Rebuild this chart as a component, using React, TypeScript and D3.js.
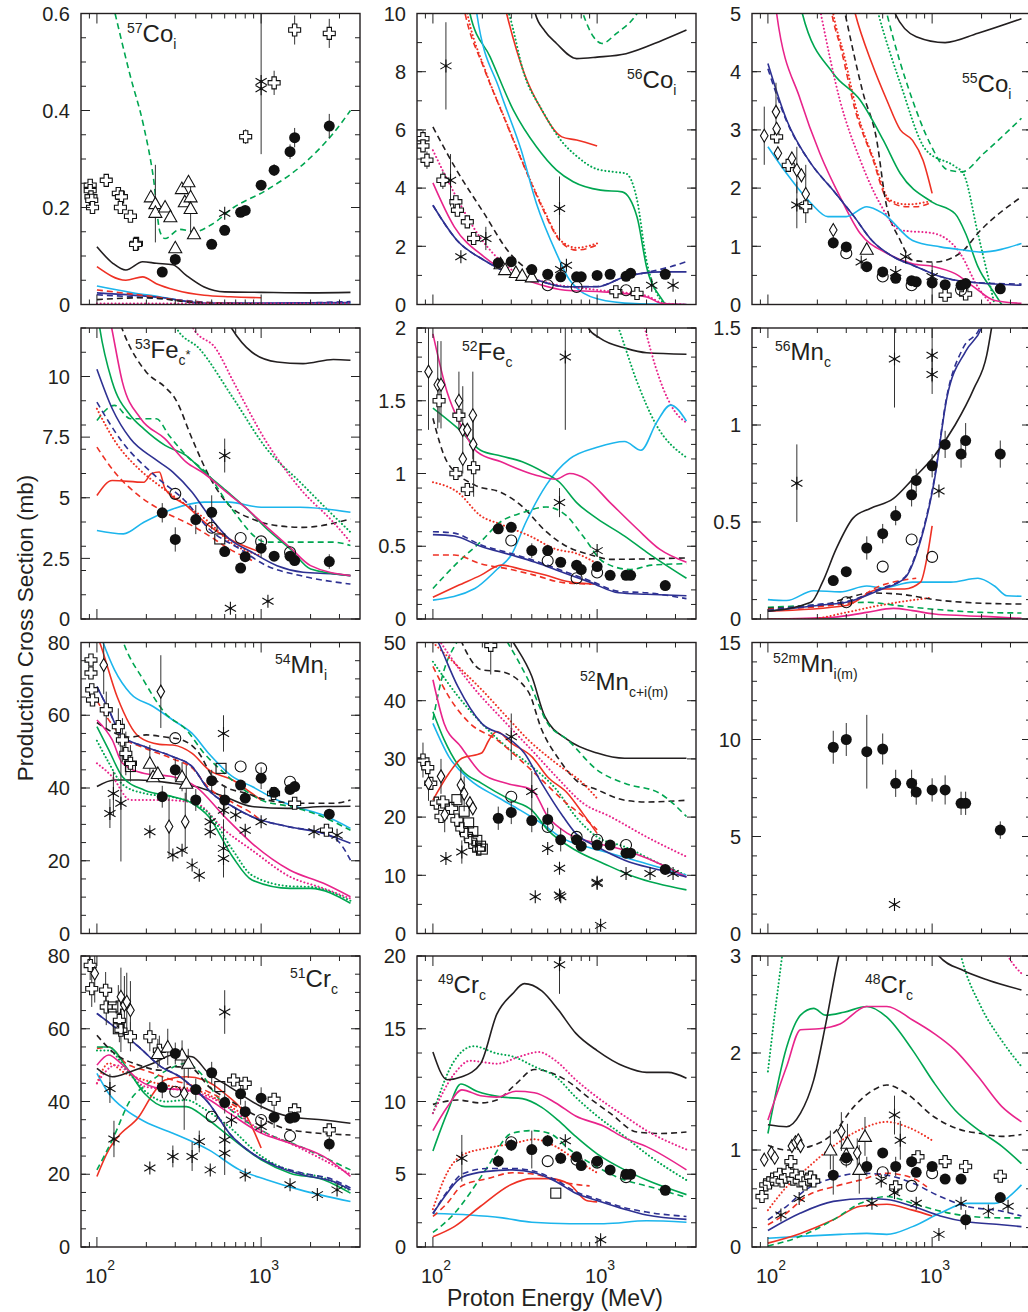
import React from 'react';
import * as d3 from 'd3';

type Pt = [number, number, number?];
type Ln = [string, string, [number, number][]];

// ---------- data: 57Co(i) ----------
const co57L: Ln[] = [
  ['K', '-', [[100, 0.119], [125, 0.085], [150, 0.071], [190, 0.088], [230, 0.085], [290, 0.082], [350, 0.06], [450, 0.036], [600, 0.026], [1000, 0.025], [2000, 0.024], [3500, 0.025]]],
  ['R', '-', [[100, 0.078], [150, 0.05], [190, 0.057], [230, 0.043], [300, 0.03], [450, 0.019], [650, 0.016], [1000, 0.014]]],
  ['C', '-', [[100, 0.038], [165, 0.024], [240, 0.016], [360, 0.0055], [450, 0.001], [1000, 0.001], [3500, 0.002]]],
  ['B', '-', [[100, 0.024], [250, 0.014], [450, 0.003], [1000, 0.003], [3500, 0.004]]],
  ['B', 'd', [[100, 0.02], [300, 0.01], [500, 0.004], [1000, 0.002], [3500, 0.006]]],
  ['R', 'd', [[100, 0.03], [200, 0.018], [400, 0.005], [1000, 0.001]]],
  ['K', 'd', [[100, 0.01], [200, 0.014], [400, 0.004], [1000, 0.001]]],
  ['M', 'o', [[100, 0.002], [3500, 0.002]]],
  ['G', 'd', [[129, 0.6], [160, 0.47], [192, 0.37], [221, 0.26], [242, 0.15], [260, 0.136], [320, 0.155], [390, 0.15], [500, 0.165], [680, 0.2], [1080, 0.236], [1730, 0.284], [2750, 0.353], [3500, 0.4]]],
];
const co57F: Pt[] = [[250, 0.067, 0.005], [300, 0.093, 0.006], [500, 0.124], [600, 0.153, 0.006], [750, 0.19, 0.008], [800, 0.194, 0.008], [1000, 0.246, 0.01], [1200, 0.277, 0.012], [1500, 0.315, 0.015], [1600, 0.344, 0.02], [2600, 0.368, 0.025]];
const co57X: Pt[] = [[91, 0.246, 0.01], [91, 0.235], [92, 0.222], [93, 0.215], [94, 0.2, 0.012], [114, 0.256, 0.012], [135, 0.229], [141, 0.222], [139, 0.2], [160, 0.182], [174, 0.126], [172, 0.124], [805, 0.346, 0.015], [1200, 0.457, 0.025], [1600, 0.566, 0.03], [2600, 0.559, 0.03]];
const co57T: Pt[] = [[213, 0.222], [227, 0.208, 0.08], [227, 0.19], [260, 0.201], [280, 0.181], [300, 0.117], [329, 0.239], [343, 0.212], [361, 0.253], [372, 0.222], [372, 0.198, 0.05], [390, 0.146]];
const co57S: Pt[] = [[600, 0.188], [1000, 0.46, 0.15], [1000, 0.445]];

// ---------- 56Co(i) ----------
const co56L: Ln[] = [
  ['K', '-', [[380, 11.5], [420, 10], [480, 9.4], [566, 8.97], [750, 8.45], [1000, 8.5], [1500, 8.62], [2500, 9.08], [3500, 9.43]]],
  ['G', 'd', [[760, 10.6], [820, 10], [950, 9.2], [1070, 8.97], [1300, 9.3], [1750, 10], [2000, 10.6]]],
  ['R', '-', [[260, 10.8], [281, 10], [360, 7.94], [460, 6.68], [610, 5.76], [750, 5.65], [1000, 5.45]]],
  ['G', 'o', [[240, 11], [290, 10], [360, 7.9], [460, 6.7], [610, 5.6], [750, 5.1], [1000, 4.65], [1300, 4.55], [1500, 4.5], [1750, 3.6], [2000, 1.5], [2300, 0.4], [2600, 0]]],
  ['G', '-', [[155, 11], [168, 10], [223, 8.51], [309, 6.68], [427, 5.42], [566, 4.62], [715, 4.22], [1050, 3.93], [1420, 3.87], [1750, 3.01], [2000, 1.29], [2500, 0.15], [2600, 0]]],
  ['R', 'd', [[145, 11], [157, 10], [203, 8.17], [270, 6.45], [360, 4.73], [460, 3.36], [590, 2.21], [750, 1.87], [1000, 2.04]]],
  ['R', 'o', [[150, 11], [162, 10], [210, 8.0], [278, 6.3], [370, 4.6], [470, 3.3], [600, 2.2], [750, 1.95], [1000, 2.1]]],
  ['C', '-', [[175, 11], [185, 10], [255, 7.37], [345, 5.3], [427, 3.47], [566, 1.75], [680, 0.84], [1000, 0.2], [1700, 0.03], [3500, 0]]],
  ['K', 'd', [[100, 6.1], [140, 4.6], [205, 3.13], [295, 1.75], [360, 1.29], [400, 1.1]]],
  ['M', 'o', [[100, 5.3], [130, 4.0], [200, 2.2], [300, 1.2], [500, 0.75], [1000, 0.5], [2000, 0.3], [2500, 0.05], [3500, 0]]],
  ['M', '-', [[100, 4.18], [135, 2.67], [205, 1.64], [295, 1.07], [427, 0.72], [640, 0.49], [1050, 0.44], [2000, 0.26], [2500, 0.03], [3500, 0]]],
  ['B', 'd', [[100, 3.41], [140, 2.21], [205, 1.52], [295, 1.07], [427, 0.84], [640, 0.61], [1000, 0.62], [1470, 0.95], [2000, 1.1], [2800, 1.3], [3500, 1.47]]],
  ['B', '-', [[100, 3.41], [140, 2.21], [205, 1.52], [295, 1.07], [427, 0.84], [640, 0.61], [1000, 0.61], [1470, 0.95], [2500, 1.12], [3500, 1.12]]],
];
const co56F: Pt[] = [[250, 1.43], [300, 1.47], [400, 1.2], [500, 1.04], [600, 0.95], [750, 0.95], [800, 0.95], [1000, 1.0], [1200, 1.04], [1500, 0.97], [1600, 1.07], [2600, 1.04]];
const co56O: Pt[] = [[500, 0.66], [750, 0.6], [1500, 0.49]];
const co56X: Pt[] = [[87, 5.7, 0.3], [87, 5.45], [92, 4.96, 0.3], [115, 4.27, 0.3], [138, 3.53], [141, 3.24], [162, 2.84], [177, 2.27], [1300, 0.44], [1750, 0.38]];
const co56T: Pt[] = [[258, 1.4], [275, 1.2], [320, 1.1], [350, 1.0], [400, 0.95]];
const co56S: Pt[] = [[120, 8.2, 1.5], [128, 4.27, 0.9], [148, 1.64], [210, 2.27, 0.4], [590, 3.3, 1.1], [650, 1.35], [600, 1.2], [2150, 0.66], [2900, 0.66]];

// ---------- 55Co(i) ----------
const co55L: Ln[] = [
  ['K', '-', [[560, 5.2], [595, 5], [800, 4.6], [1200, 4.5], [1900, 4.66], [3500, 4.91]]],
  ['G', 'd', [[500, 5.3], [530, 5], [760, 3.51], [970, 2.77], [1250, 2.31], [1520, 2.28], [2050, 2.59], [3500, 3.2]]],
  ['G', 'o', [[450, 5.2], [470, 5], [640, 3.8], [920, 2.65], [1380, 2.37], [1550, 2.25], [1900, 1.22], [2400, 0]]],
  ['R', '-', [[320, 5.3], [340, 5], [430, 4.14], [530, 3.51], [640, 3.0], [760, 2.82], [880, 2.48], [1000, 1.91]]],
  ['R', 'd', [[235, 5.3], [245, 5], [280, 4.37], [340, 3.34], [430, 2.54], [540, 1.79], [700, 1.68], [800, 1.68], [1000, 1.76]]],
  ['R', 'o', [[240, 5.3], [250, 5], [290, 4.3], [350, 3.3], [440, 2.5], [550, 1.8], [700, 1.72], [1000, 1.78]]],
  ['K', 'd', [[280, 5.3], [295, 5], [380, 3.63], [460, 2.82], [520, 1.79], [640, 1.1], [760, 0.76], [1030, 0.73], [1480, 0.88], [1980, 1.28], [3500, 1.85]]],
  ['G', '-', [[155, 5.3], [162, 5], [250, 3.97], [365, 3.51], [505, 2.82], [640, 2.25], [1000, 1.76], [1380, 1.56], [1600, 1.22], [1900, 0.65], [2400, 0.19], [2650, 0]]],
  ['M', 'o', [[200, 5.3], [210, 5], [275, 3.5], [365, 2.48], [480, 1.74], [640, 1.28], [1030, 1.22], [1480, 0.88], [1900, 0.3], [2300, 0]]],
  ['M', '-', [[110, 5.3], [113, 5], [158, 3.51], [207, 2.6], [275, 1.85], [365, 1.22], [530, 0.88], [760, 0.7], [1030, 0.65], [1380, 0.53], [1800, 0.3], [2400, 0.07], [3500, 0.02]]],
  ['C', '-', [[100, 2.71], [130, 2.25], [183, 1.74], [232, 1.51], [300, 1.51], [400, 1.68], [505, 1.56], [760, 1.1], [1120, 0.99], [1600, 0.93], [1980, 0.9], [3500, 1.05]]],
  ['B', 'd', [[100, 4.05], [130, 3.15], [183, 2.42], [250, 1.96], [335, 1.51], [430, 1.1], [580, 0.82], [800, 0.65], [1120, 0.48], [1620, 0.39], [3500, 0.35]]],
  ['B', '-', [[100, 4.14], [130, 3.17], [183, 2.42], [250, 1.96], [335, 1.51], [430, 1.1], [580, 0.82], [800, 0.65], [1120, 0.48], [1620, 0.39], [3500, 0.33]]],
];
const co55F: Pt[] = [[250, 1.06, 0.1], [300, 0.99], [400, 0.65], [500, 0.56], [600, 0.45], [750, 0.41], [800, 0.39], [1000, 0.37, 0.35], [1200, 0.34], [1500, 0.33], [1600, 0.36], [2600, 0.27]];
const co55O: Pt[] = [[300, 0.88], [500, 0.48], [750, 0.33], [1500, 0.25]];
const co55X: Pt[] = [[113, 2.88], [133, 2.39], [170, 1.68], [1200, 0.16], [1600, 0.18]];
const co55D: Pt[] = [[95, 2.9, 0.5], [112, 3.31, 0.5], [113, 3.02], [115, 2.6], [140, 2.51], [150, 2.31, 0.4], [160, 2.22], [170, 1.9, 0.5], [250, 1.28]];
const co55T: Pt[] = [[400, 0.95]];
const co55S: Pt[] = [[150, 1.71, 0.4], [370, 0.73], [600, 0.55], [690, 0.82], [1000, 0.48]];

// ---------- 53Fe(c*) ----------
const fe53L: Ln[] = [
  ['K', '-', [[600, 12.5], [660, 12], [880, 11.0], [1250, 10.6], [1800, 10.53], [2750, 10.7], [3500, 10.67]]],
  ['K', 'd', [[140, 12.1], [145, 11.83], [200, 10.18], [260, 9.56], [300, 9.08], [380, 7.43], [480, 5.92], [640, 4.68], [880, 4.13], [1250, 3.85], [1800, 3.78], [3500, 4.13]]],
  ['G', 'o', [[290, 12.3], [305, 12], [420, 11.15], [680, 9.08], [1080, 7.02], [1730, 5.64], [2750, 4.27], [3500, 3.58]]],
  ['M', 'o', [[360, 12.4], [385, 12], [530, 11.15], [680, 9.77], [1080, 7.29], [1730, 5.37], [2750, 3.99], [3500, 3.17]]],
  ['C', '-', [[100, 3.65], [145, 3.51], [193, 3.99], [290, 4.54], [450, 4.82], [640, 4.82], [1000, 4.61], [1730, 4.61], [3500, 4.4]]],
  ['G', 'd', [[100, 8.19], [128, 8.81], [160, 8.26], [230, 8.26], [275, 7.57], [350, 6.74], [480, 5.92], [640, 4.68], [1080, 3.17], [1730, 3.17], [2750, 3.17], [3500, 3.03]]],
  ['R', 'o', [[100, 8.67], [130, 7.29], [180, 6.19], [240, 5.5], [330, 4.82], [480, 4.0], [640, 3.2], [1000, 2.61]]],
  ['R', 'd', [[100, 7.09], [128, 6.06], [180, 5.09], [260, 4.4], [380, 3.85], [480, 3.44], [640, 2.89], [880, 2.41]]],
  ['R', '-', [[100, 5.09], [124, 5.71], [193, 5.64], [215, 6.0], [240, 6.06], [260, 5.37], [350, 4.68], [480, 3.85], [640, 3.3], [1000, 2.75]]],
  ['B', 'd', [[100, 8.94], [143, 7.29], [225, 5.92], [350, 4.82], [480, 3.72], [740, 2.89], [1080, 2.2], [1730, 1.79], [3500, 1.44]]],
  ['B', '-', [[100, 10.3], [124, 8.67], [160, 7.43], [225, 6.6], [290, 6.06], [380, 5.23], [480, 4.27], [640, 3.3], [880, 2.75], [1250, 2.2], [1800, 1.93], [2750, 1.86], [3500, 1.79]]],
  ['G', '-', [[100, 12.8], [104, 12], [124, 9.77], [160, 8.39], [193, 7.84], [260, 7.16], [350, 6.74], [450, 6.06], [610, 5.3], [820, 4.54], [1080, 3.72], [1500, 2.89], [2000, 2.06], [3500, 1.79]]],
  ['M', '-', [[118, 12.6], [123, 12], [143, 9.77], [185, 8.26], [260, 7.43], [350, 6.47], [450, 6.0], [610, 5.25], [820, 4.54], [1080, 3.8], [1500, 2.95], [2000, 2.2], [3500, 1.79]]],
];
const fe53F: Pt[] = [[250, 4.38, 0.4], [300, 3.28, 0.5], [400, 4.1, 0.6], [500, 4.4, 0.7], [600, 2.78], [750, 2.1], [800, 2.57], [1000, 2.92, 0.4], [1200, 2.59], [1500, 2.59], [1600, 2.41], [2600, 2.37, 0.3]];
const fe53O: Pt[] = [[300, 5.16], [500, 3.76], [750, 3.34], [1000, 3.2], [1500, 2.75]];
const fe53Q: Pt[] = [[560, 3.3]];
const fe53S: Pt[] = [[600, 6.74, 0.7], [650, 0.44], [1100, 0.73]];

// ---------- 52Fe(c) ----------
const fe52L: Ln[] = [
  ['K', '-', [[820, 2.1], [883, 2.0], [1040, 1.93], [1500, 1.86], [2000, 1.83], [3500, 1.82]]],
  ['G', 'o', [[1250, 2.1], [1350, 2.0], [1750, 1.63], [2250, 1.35], [3500, 1.11]]],
  ['M', 'o', [[1850, 2.1], [1950, 2], [2400, 1.65], [3000, 1.42], [3500, 1.35]]],
  ['C', '-', [[100, 0.13], [180, 0.21], [245, 0.34], [300, 0.44], [370, 0.67], [490, 0.92], [680, 1.1], [1000, 1.18], [1470, 1.22], [1850, 1.16], [2300, 1.35], [2800, 1.47], [3500, 1.36]]],
  ['K', 'd', [[100, 1.38], [122, 1.08], [180, 0.92], [260, 0.87], [345, 0.78], [490, 0.6], [650, 0.5], [920, 0.44], [1200, 0.41], [3500, 0.42]]],
  ['R', 'o', [[100, 0.94], [142, 0.87], [195, 0.71], [260, 0.65], [390, 0.57], [560, 0.48], [750, 0.45], [1000, 0.38]]],
  ['G', 'd', [[100, 0.21], [142, 0.39], [195, 0.53], [260, 0.67], [350, 0.73], [490, 0.77], [650, 0.71], [820, 0.57], [1100, 0.39], [1600, 0.34], [2150, 0.37], [3500, 0.38]]],
  ['R', 'd', [[100, 0.44], [135, 0.44], [195, 0.38], [300, 0.34], [420, 0.3], [620, 0.25], [920, 0.24]]],
  ['R', '-', [[100, 0.15], [142, 0.23], [195, 0.3], [260, 0.37], [350, 0.34], [490, 0.3], [650, 0.26], [1000, 0.24]]],
  ['B', 'd', [[100, 0.6], [135, 0.59], [195, 0.51], [300, 0.45], [420, 0.4], [620, 0.33], [920, 0.26], [1350, 0.19], [2000, 0.18], [3500, 0.14]]],
  ['B', '-', [[100, 0.58], [135, 0.57], [195, 0.5], [300, 0.44], [420, 0.39], [620, 0.32], [920, 0.25], [1350, 0.18], [2000, 0.17], [3500, 0.16]]],
  ['G', '-', [[100, 1.45], [142, 1.31], [195, 1.16], [260, 1.12], [350, 1.08], [470, 1.01], [590, 0.94], [750, 0.8], [1000, 0.69], [1470, 0.57], [2000, 0.46], [3500, 0.28]]],
  ['M', '-', [[100, 1.96], [122, 1.56], [148, 1.33], [185, 1.15], [260, 1.08], [420, 0.99], [560, 0.96], [680, 1.0], [860, 0.96], [1200, 0.8], [1750, 0.62], [2400, 0.48], [3500, 0.39]]],
];
const fe52F: Pt[] = [[250, 0.62], [300, 0.63], [400, 0.47, 0.05], [500, 0.47], [600, 0.39], [750, 0.37], [800, 0.34], [1000, 0.36], [1200, 0.3], [1500, 0.3], [1600, 0.3], [2600, 0.23]];
const fe52O: Pt[] = [[300, 0.54], [500, 0.4], [750, 0.28], [1000, 0.32]];
const fe52D: Pt[] = [[94, 1.7, 0.4], [107, 1.61, 0.3], [112, 1.61, 0.3], [144, 1.5, 0.2], [152, 1.3, 0.3], [162, 1.3], [175, 1.4, 0.3], [152, 1.1], [176, 1.2, 0.2]];
const fe52X: Pt[] = [[109, 1.5, 0.15], [144, 1.4], [138, 1.0], [162, 0.89], [177, 1.04, 0.2]];
const fe52S: Pt[] = [[640, 1.8, 0.5], [590, 0.8, 0.1], [1000, 0.47]];

// ---------- 56Mn(c) ----------
const mn56L: Ln[] = [
  ['G', '-', [[100, 0.001], [3500, 0.001]]],
  ['M', '-', [[100, 0.0], [250, 0.009], [400, 0.034], [580, 0.055], [760, 0.043], [1030, 0.026], [1600, 0.017], [2650, 0.009], [3500, 0.003]]],
  ['R', 'o', [[100, 0.0], [180, 0.0], [300, 0.034], [480, 0.07], [800, 0.1], [1000, 0.11]]],
  ['G', 'd', [[100, 0.06], [200, 0.072], [400, 0.086], [620, 0.069], [1030, 0.05], [2000, 0.034], [3500, 0.031]]],
  ['K', 'd', [[100, 0.055], [200, 0.065], [300, 0.107], [420, 0.134], [620, 0.129], [1030, 0.1], [1800, 0.083], [3500, 0.077]]],
  ['C', '-', [[100, 0.1], [130, 0.095], [190, 0.146], [275, 0.14], [400, 0.17], [500, 0.16], [760, 0.19], [1300, 0.19], [1900, 0.21], [2400, 0.17], [2850, 0.12], [3500, 0.117]]],
  ['R', 'd', [[100, 0.05], [300, 0.08], [480, 0.17], [800, 0.21]]],
  ['R', '-', [[100, 0.04], [300, 0.07], [480, 0.155], [680, 0.155], [850, 0.19], [950, 0.36], [1000, 0.48]]],
  ['B', 'd', [[100, 0.045], [200, 0.075], [300, 0.09], [480, 0.155], [680, 0.215], [820, 0.37], [1030, 0.72], [1230, 1.15], [1550, 1.4], [1950, 1.5], [2050, 1.55]]],
  ['B', '-', [[100, 0.04], [200, 0.07], [300, 0.086], [480, 0.15], [680, 0.21], [820, 0.36], [1030, 0.71], [1230, 1.14], [1600, 1.38], [2000, 1.5], [2100, 1.55]]],
  ['K', '-', [[100, 0.04], [183, 0.086], [215, 0.19], [260, 0.36], [330, 0.52], [420, 0.57], [580, 0.62], [760, 0.72], [1030, 0.84], [1380, 1.0], [1800, 1.19], [2150, 1.36], [2300, 1.5], [2400, 1.6]]],
];
const mn56F: Pt[] = [[250, 0.198, 0.02], [300, 0.244], [400, 0.366, 0.06], [500, 0.44, 0.05], [600, 0.533, 0.05], [750, 0.64, 0.06], [800, 0.714, 0.06], [1000, 0.79, 0.06], [1200, 0.9, 0.07], [1500, 0.85, 0.07], [1600, 0.92, 0.09], [2600, 0.85, 0.07]];
const mn56O: Pt[] = [[300, 0.086], [500, 0.27], [750, 0.41], [1000, 0.32]];
const mn56S: Pt[] = [[150, 0.7, 0.2], [590, 1.34, 0.25], [1000, 1.36, 0.14], [1000, 1.26, 0.1], [1100, 0.66]];

// ---------- 54Mn(i) ----------
const mn54L: Ln[] = [
  ['C', '-', [[105, 82], [109, 80], [128, 72.5], [160, 66], [220, 62.4], [290, 58.7], [380, 55], [480, 49.5], [670, 43.1], [880, 40.4], [1250, 36.7], [1730, 34.5], [2400, 32.5], [3500, 28.9]]],
  ['R', '-', [[100, 82], [104, 80], [133, 65], [180, 54.1], [240, 52], [290, 51.8], [380, 49.5], [480, 45], [670, 42.2], [880, 38.5], [1000, 36.7]]],
  ['G', 'd', [[140, 82], [145, 80], [192, 69.7], [260, 60.6], [350, 56], [450, 49.5], [600, 44], [740, 40.4], [1000, 36.7], [1500, 34.9], [2100, 33], [3500, 28.4]]],
  ['K', 'd', [[100, 58], [130, 55], [160, 54], [200, 54.6], [260, 54], [330, 53.2], [420, 49.5], [500, 43.5], [600, 40.4], [820, 38.5], [1080, 36.7], [1730, 35.8], [2750, 35.8], [3500, 36.7]]],
  ['K', '-', [[100, 40.4], [128, 42.2], [180, 42.2], [290, 41.3], [400, 40.4], [600, 37.6], [880, 34.9], [1450, 34.4], [2400, 34.9], [3500, 35]]],
  ['R', 'd', [[100, 64], [143, 54], [195, 51], [290, 48], [380, 45.5], [480, 40], [670, 36], [880, 33], [1000, 31]]],
  ['B', 'd', [[100, 67.9], [118, 61.5], [143, 54.1], [195, 51.4], [290, 48.6], [380, 45.9], [480, 39.4], [670, 34.9], [880, 32.1], [1450, 29.4], [2400, 27.5], [3000, 25], [3500, 20.2]]],
  ['B', '-', [[100, 67.9], [118, 61.5], [143, 54.1], [195, 51.4], [290, 48.6], [380, 45.9], [480, 39.4], [670, 34.9], [880, 32.1], [1450, 29.4], [2400, 27.5], [3500, 24.8]]],
  ['M', 'o', [[100, 46.8], [124, 43.1], [160, 36.7], [260, 36.7], [400, 35.8], [600, 28.4], [880, 22.9], [1500, 15.6], [2400, 12.4], [3500, 9.6]]],
  ['M', '-', [[100, 58.7], [124, 53.2], [143, 46.8], [195, 44], [290, 43.1], [400, 40.4], [600, 32.1], [880, 24.8], [1500, 17.4], [2400, 13.8], [3500, 10.1]]],
  ['G', 'o', [[100, 53], [118, 47], [143, 41], [195, 38.5], [290, 37.5], [380, 36], [480, 33], [670, 23], [880, 16], [1500, 13], [2000, 12.8], [3500, 9]]],
  ['G', '-', [[100, 56.9], [118, 50.5], [143, 43.1], [195, 39.4], [290, 37.6], [380, 35.8], [480, 32.1], [670, 21.1], [880, 14.7], [1500, 12.4], [2000, 12.4], [3500, 8.3]]],
];
const mn54F: Pt[] = [[250, 37.6, 3], [300, 45, 3], [400, 36.7, 3], [500, 42, 3], [600, 36.7, 4], [750, 40.8], [800, 37.2], [1000, 42.7, 3], [1200, 38.8], [1500, 39.6], [1600, 40.4], [2600, 32.8]];
const mn54O: Pt[] = [[300, 53.7], [750, 45.9], [1000, 45.4], [1500, 41.7]];
const mn54X: Pt[] = [[92, 75.2], [92, 71.6], [93, 67], [94, 64.2], [114, 61.5, 5], [135, 56.9, 5], [143, 53.2, 6], [150, 49.5, 6], [160, 46.8, 5], [1190, 38.5], [1600, 35.8], [2500, 28.4]];
const mn54T: Pt[] = [[210, 46.8, 5], [220, 43.1], [235, 44], [330, 43.1, 4], [350, 41.3, 5]];
const mn54Q: Pt[] = [[160, 45.9], [570, 45.4]];
const mn54D: Pt[] = [[110, 73.8, 8], [245, 66.5, 10], [275, 29.4, 8], [345, 30.7, 8]];
const mn54S: Pt[] = [[120, 33, 4], [126, 38.5, 6], [140, 35.8, 16], [210, 28], [290, 21.6], [330, 22.9], [380, 18.8], [420, 16], [490, 30.7], [490, 28], [590, 23.4, 8], [590, 20.6], [590, 33.9], [590, 55, 5], [700, 32.6], [800, 28.4], [1000, 30.7], [2100, 28], [2900, 27]];

// ---------- 52Mn(c+i(m)) ----------
const mn52L: Ln[] = [
  ['K', '-', [[280, 52], [309, 50], [400, 44.2], [480, 37.3], [660, 33.3], [1000, 31], [1470, 30.1], [2400, 30.1], [3500, 30.1]]],
  ['K', 'd', [[140, 52], [150, 50], [198, 45.3], [260, 45], [380, 41.6], [460, 35], [590, 29.8], [740, 26.4], [1000, 24.7], [1470, 22.9], [2000, 22.6], [3500, 22.9]]],
  ['G', 'd', [[100, 36.7], [117, 45.3], [137, 49.6], [160, 52], [220, 55], [285, 50], [380, 43.6], [500, 36.1], [660, 33.3], [1000, 28.1], [1470, 25.8], [2400, 24.1], [3500, 20.1]]],
  ['G', 'o', [[100, 46.7], [140, 41], [198, 36.1], [280, 32.1], [400, 28.7], [566, 24.7], [740, 20.1], [1000, 16.6], [1470, 14.9], [2400, 12], [3500, 10]]],
  ['R', 'o', [[100, 50], [142, 45.9], [198, 41.9], [280, 37.3], [380, 33.3], [566, 29.2], [820, 25.8], [1000, 23.2]]],
  ['M', 'o', [[100, 52], [168, 43], [280, 36.1], [400, 31.5], [566, 26.9], [820, 22.4], [1200, 20.1], [2000, 16.6], [3500, 13.2]]],
  ['R', 'd', [[100, 45.9], [125, 40.7], [168, 36.1], [245, 33.3], [360, 29.2], [460, 26.4], [620, 22.9], [820, 20.1], [1000, 17.8]]],
  ['C', '-', [[100, 36.1], [125, 30.4], [168, 26.4], [245, 23.5], [340, 21.2], [460, 18.9], [620, 16.3], [860, 14.9], [1200, 13.8], [2000, 12], [3500, 10]]],
  ['G', '-', [[100, 38.1], [117, 33.3], [150, 28.1], [198, 25.8], [300, 22.9], [400, 21.2], [500, 17.8], [740, 14.3], [1100, 12], [1700, 9.7], [3500, 7.5]]],
  ['M', '-', [[100, 43.6], [117, 36.1], [148, 32.1], [198, 27.5], [280, 25.8], [400, 24.7], [500, 20.1], [660, 17.2], [1000, 15.5], [1470, 14.3], [2400, 12], [3500, 9.7]]],
  ['R', '-', [[100, 22.9], [125, 27.5], [150, 30.1], [198, 31], [220, 33.3], [245, 34.7], [300, 32.7], [400, 30.4], [500, 26.9], [660, 24.1], [820, 20.6], [1000, 17.2]]],
  ['B', '-', [[100, 52], [108, 50], [142, 42.4], [198, 36.1], [280, 33.8], [360, 31], [460, 25.8], [620, 20.1], [740, 17.2], [1000, 14.9], [1470, 12.6], [2400, 10.9], [3500, 9.7]]],
];
const mn52F: Pt[] = [[250, 19.8, 2], [300, 20.8, 2], [400, 19.4, 2], [500, 19.6, 2], [600, 16.1, 2], [750, 16.1], [800, 15], [1000, 15.2], [1200, 15.2], [1500, 13.8], [1600, 13.8], [2600, 11]];
const mn52O: Pt[] = [[300, 23.5], [500, 18.3], [750, 16.6], [1000, 16.1], [1500, 15.2]];
const mn52X: Pt[] = [[87, 29.8, 3], [93, 28.5], [97, 25.8], [105, 22.4], [112, 20.1], [115, 22.6], [130, 21.5], [140, 19.5], [150, 18], [160, 17], [170, 16], [180, 15], [190, 14.5], [225, 49.5, 5]];
const mn52D: Pt[] = [[94, 25.8, 3], [112, 27, 3], [118, 20.4, 3], [148, 25.5, 3], [155, 24, 3], [168, 22.4], [175, 21.5]];
const mn52Q: Pt[] = [[140, 23], [155, 21], [165, 19], [175, 17.5], [185, 16], [195, 15], [200, 14.5]];
const mn52S: Pt[] = [[120, 12.9], [150, 14, 2], [300, 33.8, 4], [400, 24.4, 3.5], [420, 6.3], [500, 14.6], [590, 11.2], [590, 6.6, 1], [600, 6.3], [1000, 8.6], [1000, 8.8], [1050, 1.4], [1500, 10.3], [2100, 10.3], [2900, 10.3]];

// ---------- 52mMn(i(m)) ----------
const mn52mF: Pt[] = [[250, 9.6, 0.85], [300, 10.0, 0.85], [400, 9.37, 1.9], [500, 9.51, 0.8], [600, 7.74, 0.7], [750, 7.74, 0.7], [800, 7.29, 0.65], [1000, 7.4, 0.6], [1200, 7.4, 0.75], [1500, 6.71, 0.6], [1600, 6.71, 0.6], [2600, 5.33, 0.45]];
const mn52mS: Pt[] = [[590, 1.5]];

// ---------- 51Cr(c) ----------
const cr51L: Ln[] = [
  ['C', '-', [[100, 47.7], [118, 42.2], [150, 37.7], [195, 34.5], [290, 31.3], [380, 29], [480, 26.7], [740, 21.2], [1080, 18.5], [1730, 15.7], [3500, 12.5]]],
  ['R', '-', [[100, 19.4], [118, 26.7], [135, 30.4], [180, 35.8], [220, 42.2], [260, 45.9], [350, 46.8], [450, 45.9], [600, 42.2], [820, 35.8], [1000, 27.2]]],
  ['G', 'd', [[100, 21.2], [124, 29.4], [160, 40.4], [205, 45], [280, 49.1], [350, 50.5], [430, 47.7], [540, 41.3], [740, 35.8], [1080, 31.3], [1730, 27.6], [3500, 21.2]]],
  ['R', 'd', [[100, 54.6], [118, 55], [150, 50.5], [195, 48.6], [290, 45.9], [400, 44.1], [600, 40.4], [820, 36.8]]],
  ['R', 'o', [[100, 45], [118, 50.5], [150, 47.7], [195, 45.9], [290, 44.1], [400, 43.2], [600, 39.5], [820, 35.8]]],
  ['M', 'o', [[100, 45], [130, 50], [200, 44], [350, 43], [500, 41], [700, 37], [1000, 32], [1500, 28.5], [3500, 20]]],
  ['G', 'o', [[100, 54], [118, 54], [150, 49], [195, 43], [260, 40], [350, 40.4], [450, 38], [640, 33], [1000, 25], [1500, 21], [2400, 19], [3500, 15.5]]],
  ['G', '-', [[100, 55], [118, 55], [150, 49.6], [195, 42.2], [260, 38.6], [350, 38.6], [450, 35.8], [640, 30.4], [1000, 24], [1500, 20.3], [2400, 18.5], [3500, 14.8]]],
  ['M', '-', [[100, 50], [118, 52.8], [140, 50.5], [180, 45.9], [245, 43.6], [350, 43.2], [450, 41.3], [640, 36.8], [1000, 31.3], [1500, 28.5], [2400, 24.9], [3500, 19.4]]],
  ['K', 'd', [[100, 58.2], [128, 53.2], [180, 50], [245, 48.6], [290, 49.6], [380, 49], [480, 44.1], [640, 40.4], [1000, 35.4], [1500, 32.2], [3500, 30.8]]],
  ['K', '-', [[100, 49.1], [124, 46.8], [160, 48.2], [220, 50.5], [290, 52.8], [380, 52.3], [480, 47.7], [640, 44.1], [1000, 38.6], [1500, 35.8], [2400, 34.9], [3500, 34]]],
  ['B', 'd', [[100, 64.2], [128, 60.5], [180, 55], [245, 49.6], [320, 46.8], [380, 44.1], [480, 39.5], [640, 31.3], [880, 25.8], [1250, 22.3], [1800, 20.3], [2750, 18.5], [3500, 16.2]]],
  ['B', '-', [[100, 64.2], [128, 60.5], [180, 55], [245, 49.6], [320, 46.8], [380, 44.1], [480, 39.5], [640, 31.3], [880, 25.8], [1250, 22.1], [1800, 19.8], [2750, 18], [3500, 15.7]]],
];
const cr51F: Pt[] = [[250, 43.9, 3], [300, 53.2, 3], [400, 43.3, 3], [500, 47.9, 3], [600, 39.7, 3], [750, 42.1, 3], [800, 37.2, 3], [1000, 40.9, 3], [1200, 35.7, 3], [1500, 35.4], [1600, 35.7], [2600, 28.3, 2]];
const cr51O: Pt[] = [[300, 42.7], [500, 35.8], [1000, 34.9], [1500, 30.5]];
const cr51X: Pt[] = [[91, 77.4, 4], [93, 71, 5], [113, 70.6, 5], [114, 66, 5], [135, 66, 6], [137, 62.3, 6], [140, 59.6, 6], [160, 57.8, 4], [210, 57.8, 4], [240, 54.1, 4], [680, 45.9], [800, 45], [1200, 40.6], [1600, 37.7], [2600, 32.2]];
const cr51D: Pt[] = [[97, 75.2, 8], [140, 68.8, 8], [147, 66.5, 8], [152, 67.4, 8], [160, 65.1, 8], [340, 42.2, 10]];
const cr51T: Pt[] = [[235, 53.2, 4], [270, 55, 5], [330, 52.8, 4], [360, 50.5, 4]];
const cr51Q: Pt[] = [[560, 44.1], [125, 66], [135, 60]];
const cr51S: Pt[] = [[120, 43.6, 4], [127, 29.7, 5], [210, 21.7], [290, 24.9, 3], [380, 24.9, 4], [420, 29, 3], [490, 21.2], [600, 29.4, 5], [600, 25.8, 6], [600, 64.6, 6], [660, 34.9], [800, 19.8], [1000, 33.1], [1500, 17.1], [2200, 14.4], [2900, 15.7]];

// ---------- 49Cr(c) ----------
const cr49L: Ln[] = [
  ['C', '-', [[100, 2.3], [168, 2.2], [265, 2], [400, 1.7], [680, 1.6], [1100, 1.6], [2000, 1.8], [3500, 1.7]]],
  ['R', '-', [[100, 0.7], [135, 1.4], [195, 2.8], [300, 4.3], [400, 4.7], [515, 4.7], [680, 4.3], [860, 3.2], [1000, 3.1]]],
  ['G', 'd', [[100, 1.0], [135, 2.3], [168, 3.7], [215, 5.5], [300, 7.8], [400, 8.0], [515, 7.8], [680, 6.7], [1000, 5.5], [1470, 4.6], [2000, 4.2], [3500, 3.4]]],
  ['R', 'd', [[100, 2.1], [122, 3], [150, 4.2], [215, 4.7], [305, 5.1], [415, 5], [560, 4.6], [740, 4.3], [900, 4.2]]],
  ['B', 'd', [[100, 2.3], [122, 3.8], [150, 5.0], [215, 5.4], [305, 5.4], [415, 5.2], [560, 4.6], [740, 3.8], [1000, 3.3], [1470, 2.7], [2000, 2.4], [3500, 2.1]]],
  ['B', '-', [[100, 2.3], [122, 3.7], [150, 4.8], [215, 5.2], [305, 5.3], [415, 5.1], [560, 4.5], [740, 3.7], [1000, 3.2], [1470, 2.6], [2000, 2.2], [3500, 1.9]]],
  ['R', 'o', [[100, 2.6], [122, 5.1], [150, 6.3], [215, 6.8], [305, 7.1], [415, 7.4], [560, 6.9], [740, 6], [1000, 5.1]]],
  ['K', 'd', [[100, 9.8], [142, 10.1], [195, 9.9], [245, 10.1], [320, 11.2], [415, 12.2], [515, 12], [640, 11.5], [880, 10.3], [1200, 9.2], [1750, 7.9], [2400, 7.8], [3500, 7.9]]],
  ['G', 'o', [[100, 9.2], [135, 12.8], [177, 13.8], [245, 13.3], [305, 13.1], [415, 12.4], [560, 11.7], [740, 10.3], [1000, 9], [1470, 7.6], [2000, 6.4], [3500, 4.6]]],
  ['M', 'o', [[100, 9.2], [135, 11.9], [168, 12.8], [245, 12.6], [340, 13.1], [440, 13.4], [560, 12.8], [740, 11.5], [1000, 10.3], [1470, 9], [2000, 8], [3500, 6.7]]],
  ['G', '-', [[100, 6.6], [122, 9.2], [148, 11.2], [185, 10.7], [265, 10.3], [350, 10.2], [460, 9.6], [580, 8.7], [740, 7.6], [1000, 6.4], [1470, 5.3], [2000, 4.6], [3500, 3.6]]],
  ['M', '-', [[100, 8], [122, 9.6], [150, 10.8], [195, 10.4], [245, 10.3], [320, 10.7], [415, 10.6], [560, 9.9], [740, 9], [1100, 8.3], [1470, 7.5], [2000, 6.9], [3500, 5.3]]],
  ['K', '-', [[100, 13.4], [122, 11.5], [150, 11.7], [195, 12.6], [245, 16], [305, 17.4], [360, 18.1], [460, 17.6], [580, 16.3], [740, 14.7], [1000, 13.5], [1470, 12.4], [2000, 12], [2700, 12], [3500, 11.6]]],
];
const cr49F: Pt[] = [[250, 5.9, 0.4], [300, 7, 0.4], [400, 6.7, 1.3], [500, 7.3, 0.4], [600, 6.1, 0.4], [750, 6.2], [800, 5.6], [1000, 5.9], [1200, 5.3], [1500, 5], [1600, 5], [2600, 3.9]];
const cr49O: Pt[] = [[300, 7.2], [500, 5.9], [750, 6], [1000, 5.8], [1500, 4.8]];
const cr49Q: Pt[] = [[560, 3.7]];
const cr49S: Pt[] = [[150, 6.1, 1.6], [590, 19.4, 2], [640, 7.3], [1050, 0.5]];

// ---------- 48Cr(c) ----------
const cr48L: Ln[] = [
  ['C', '-', [[100, 0.09], [158, 0.11], [275, 0.13], [400, 0.14], [530, 0.13], [760, 0.21], [1120, 0.35], [1620, 0.45], [2400, 0.45], [3500, 0.64]]],
  ['R', '-', [[100, 0.04], [158, 0.14], [250, 0.28], [365, 0.42], [530, 0.44], [760, 0.38], [1000, 0.32]]],
  ['G', 'd', [[100, 0.01], [158, 0.11], [250, 0.28], [365, 0.45], [530, 0.52], [760, 0.45], [1120, 0.37], [1620, 0.32], [2650, 0.3], [3500, 0.3]]],
  ['B', '-', [[100, 0.17], [158, 0.35], [250, 0.47], [400, 0.5], [530, 0.49], [760, 0.42], [1120, 0.32], [1620, 0.26], [2650, 0.23], [3500, 0.21]]],
  ['R', 'd', [[100, 0.23], [130, 0.35], [170, 0.52], [250, 0.62], [365, 0.69], [530, 0.76], [760, 0.71], [930, 0.62]]],
  ['B', 'd', [[100, 0.28], [130, 0.42], [170, 0.59], [250, 0.71], [365, 0.76], [530, 0.74], [760, 0.66], [1120, 0.52], [1620, 0.42], [2650, 0.37], [3500, 0.32]]],
  ['R', 'o', [[100, 0.38], [130, 0.62], [170, 0.8], [250, 1.04], [365, 1.21], [530, 1.29], [700, 1.24], [1000, 1.1]]],
  ['K', 'd', [[100, 1.05], [130, 1.0], [183, 1.04], [250, 1.17], [335, 1.45], [440, 1.62], [530, 1.67], [700, 1.58], [1030, 1.34], [1480, 1.21], [1980, 1.17], [2650, 1.14], [3500, 1.16]]],
  ['G', 'o', [[100, 1.81], [110, 2.4], [122, 3], [140, 3.8], [600, 5], [1300, 3.5], [1500, 3], [1980, 2.48], [2650, 2.13], [3500, 1.86]]],
  ['M', 'o', [[2000, 3.8], [2900, 3], [3500, 2.82]]],
  ['G', '-', [[100, 1.17], [130, 2.06], [158, 2.39], [190, 2.46], [225, 2.39], [290, 2.42], [400, 2.48], [530, 2.37], [760, 2.03], [1030, 1.69], [1380, 1.41], [1900, 1.21], [2650, 1.04], [3500, 0.86]]],
  ['M', '-', [[100, 1.31], [130, 1.86], [158, 2.24], [205, 2.25], [275, 2.3], [400, 2.48], [530, 2.48], [760, 2.34], [1030, 2.2], [1380, 2.03], [1900, 1.76], [2650, 1.45], [3500, 1.29]]],
  ['K', '-', [[100, 1.26], [130, 1.24], [158, 1.38], [190, 1.72], [225, 2.3], [270, 3], [350, 3.6], [600, 3.8], [900, 3.4], [1100, 3], [1550, 2.85], [2200, 2.75], [3500, 2.65]]],
];
const cr48F: Pt[] = [[250, 0.74, 0.2], [300, 0.92, 0.1], [400, 0.83, 0.1], [500, 0.97], [600, 0.83, 0.1], [750, 0.88], [800, 0.77], [1000, 0.83], [1200, 0.7], [1500, 0.7], [1600, 0.28, 0.1], [2600, 0.51]];
const cr48O: Pt[] = [[300, 0.9], [500, 0.77], [750, 0.63], [1000, 0.76]];
const cr48X: Pt[] = [[92, 0.52], [97, 0.64], [102, 0.66], [107, 0.7], [112, 0.69], [118, 0.75], [122, 0.68], [128, 0.72], [133, 0.78], [138, 0.88], [142, 0.7], [148, 0.74], [155, 0.68], [160, 0.72], [168, 0.65], [175, 0.7], [182, 0.72], [190, 0.68], [600, 0.62], [820, 0.93], [1200, 0.88], [1600, 0.83], [2600, 0.73]];
const cr48D: Pt[] = [[95, 0.9], [105, 0.97], [110, 0.92], [140, 1.04], [147, 1.08], [153, 1.1], [158, 1.04], [280, 1.19, 0.2], [350, 0.97, 0.15]];
const cr48T: Pt[] = [[240, 1.0, 0.2], [305, 1.07, 0.2], [390, 1.14, 0.2], [360, 0.8, 0.25], [300, 0.95]];
const cr48S: Pt[] = [[120, 0.33], [155, 0.5], [430, 0.45], [490, 0.68], [590, 1.36, 0.2], [590, 0.56], [640, 1.1, 0.2], [800, 0.45], [1100, 0.13], [1500, 0.45], [2200, 0.37], [2900, 0.42]];

// ---------- layout ----------
const COLX = [81, 417, 752];
const ROWY = [13.5, 328, 642.5, 956];
const W = 279;
const H = 291;
const COL: Record<string, string> = { K: '#231f20', R: '#ee3124', G: '#00a651', C: '#1cb5ec', B: '#2e3192', M: '#e8248b' };
const xMinor = [90, 200, 300, 400, 500, 600, 700, 800, 900, 2000, 3000];
const xMajor = [100, 1000];

type Cfg = {
  mass: string; el: string; sub: string; star?: boolean; lx: number; ly: number;
  ymax: number; major: number; minor: number;
  lines: Ln[]; F?: Pt[]; O?: Pt[]; X?: Pt[]; T?: Pt[]; D?: Pt[]; S?: Pt[]; Q?: Pt[];
};

const panels: Cfg[] = [
  { mass: '57', el: 'Co', sub: 'i', lx: 46, ly: 28, ymax: 0.6, major: 0.2, minor: 0.05, lines: co57L, F: co57F, X: co57X, T: co57T, S: co57S },
  { mass: '56', el: 'Co', sub: 'i', lx: 210, ly: 74.5, ymax: 10, major: 2, minor: 1, lines: co56L, F: co56F, O: co56O, X: co56X, T: co56T, S: co56S },
  { mass: '55', el: 'Co', sub: 'i', lx: 210, ly: 78, ymax: 5, major: 1, minor: 0.5, lines: co55L, F: co55F, O: co55O, X: co55X, D: co55D, T: co55T, S: co55S },
  { mass: '53', el: 'Fe', sub: 'c', star: true, lx: 54, ly: 30, ymax: 12, major: 2.5, minor: 1, lines: fe53L, F: fe53F, O: fe53O, Q: fe53Q, S: fe53S },
  { mass: '52', el: 'Fe', sub: 'c', lx: 45, ly: 32, ymax: 2, major: 0.5, minor: 0.1, lines: fe52L, F: fe52F, O: fe52O, D: fe52D, X: fe52X, S: fe52S },
  { mass: '56', el: 'Mn', sub: 'c', lx: 23, ly: 32, ymax: 1.5, major: 0.5, minor: 0.1, lines: mn56L, F: mn56F, O: mn56O, S: mn56S },
  { mass: '54', el: 'Mn', sub: 'i', lx: 194, ly: 30.5, ymax: 80, major: 20, minor: 5, lines: mn54L, F: mn54F, O: mn54O, X: mn54X, T: mn54T, Q: mn54Q, D: mn54D, S: mn54S },
  { mass: '52', el: 'Mn', sub: 'c+i(m)', lx: 163, ly: 47.5, ymax: 50, major: 10, minor: 5, lines: mn52L, F: mn52F, O: mn52O, X: mn52X, D: mn52D, Q: mn52Q, S: mn52S },
  { mass: '52m', el: 'Mn', sub: 'i(m)', lx: 21, ly: 29.5, ymax: 15, major: 5, minor: 1, lines: [], F: mn52mF, S: mn52mS },
  { mass: '51', el: 'Cr', sub: 'c', lx: 209, ly: 30.7, ymax: 80, major: 20, minor: 5, lines: cr51L, F: cr51F, O: cr51O, X: cr51X, D: cr51D, T: cr51T, Q: cr51Q, S: cr51S },
  { mass: '49', el: 'Cr', sub: 'c', lx: 21, ly: 37, ymax: 20, major: 5, minor: 5 / 3, lines: cr49L, F: cr49F, O: cr49O, Q: cr49Q, S: cr49S },
  { mass: '48', el: 'Cr', sub: 'c', lx: 113, ly: 37, ymax: 3, major: 1, minor: 0.2, lines: cr48L, F: cr48F, O: cr48O, X: cr48X, D: cr48D, T: cr48T, S: cr48S },
];

const steps = (max: number, step: number) => {
  const out: number[] = [];
  for (let i = 0; i * step <= max + 1e-9; i++) out.push(Math.round(i * step * 1e6) / 1e6);
  return out;
};

const crossPath = (s: number, a: number) =>
  `M${-a},${-s}H${a}V${-a}H${s}V${a}H${a}V${s}H${-a}V${a}H${-s}V${-a}H${-a}Z`;

function Marker({ kind, x, y }: { kind: string; x: number; y: number }) {
  const st = { stroke: '#111', strokeWidth: 1.1 };
  if (kind === 'F') return <circle cx={x} cy={y} r={5.5} fill="#111" />;
  if (kind === 'O') return <circle cx={x} cy={y} r={5.5} fill="none" {...st} />;
  if (kind === 'X') return <path d={crossPath(6, 2.2)} transform={`translate(${x},${y})`} fill="#fff" {...st} />;
  if (kind === 'T') return <path d="M0,-6.5L6.5,5L-6.5,5Z" transform={`translate(${x},${y})`} fill="#fff" {...st} />;
  if (kind === 'D') return <path d="M0,-6.5L3.8,0L0,6.5L-3.8,0Z" transform={`translate(${x},${y})`} fill="#fff" {...st} />;
  if (kind === 'Q') return <rect x={x - 5} y={y - 5} width={10} height={10} fill="none" {...st} />;
  // asterisk
  return (
    <g transform={`translate(${x},${y})`} stroke="#111" strokeWidth={1.1}>
      <line x1={0} y1={-6.5} x2={0} y2={6.5} />
      <line x1={-5.6} y1={-3.25} x2={5.6} y2={3.25} />
      <line x1={-5.6} y1={3.25} x2={5.6} y2={-3.25} />
      <circle r={1.4} fill="#111" stroke="none" />
    </g>
  );
}

function Panel({ cfg, idx }: { cfg: Cfg; idx: number }) {
  const col = idx % 3;
  const row = Math.floor(idx / 3);
  const x0 = COLX[col];
  const y0 = ROWY[row];
  const x = d3.scaleLog().domain([80, 4000]).range([0, W]);
  const y = d3.scaleLinear().domain([0, cfg.ymax]).range([H, 0]);
  const line = d3.line<[number, number]>().x(d => x(d[0])).y(d => y(d[1])).curve(d3.curveMonotoneX);
  const majors = steps(cfg.ymax, cfg.major);
  const minors = steps(cfg.ymax, cfg.minor);
  const clipId = `clip${idx}`;
  const kinds: [string, Pt[] | undefined][] = [['X', cfg.X], ['D', cfg.D], ['T', cfg.T], ['Q', cfg.Q], ['S', cfg.S], ['O', cfg.O], ['F', cfg.F]];

  return (
    <g transform={`translate(${x0},${y0})`}>
      <defs>
        <clipPath id={clipId}><rect x={0} y={0} width={W} height={H} /></clipPath>
      </defs>
      <g clipPath={`url(#${clipId})`}>
        {cfg.lines.map(([c, s, p], i) => (
          <path key={i} d={line(p) || ''} fill="none" stroke={COL[c]}
            strokeWidth={s === 'o' ? 2 : 1.6}
            strokeDasharray={s === 'd' ? '6 4' : s === 'o' ? '0.1 3.6' : undefined}
            strokeLinecap={s === 'o' ? 'round' : 'butt'} />
        ))}
        {kinds.map(([k, pts]) => (pts || []).filter(p => p[2]).map((p, i) => (
          <line key={k + 'e' + i} x1={x(p[0])} x2={x(p[0])} y1={y(p[1] - (p[2] as number))} y2={y(p[1] + (p[2] as number))} stroke="#333" strokeWidth={1} />
        )))}
        {kinds.map(([k, pts]) => (pts || []).map((p, i) => (
          <Marker key={k + i} kind={k} x={x(p[0])} y={y(p[1])} />
        )))}
      </g>
      {/* y ticks */}
      {minors.map(v => (
        <g key={'mi' + v}>
          <line x1={0} x2={5} y1={y(v)} y2={y(v)} stroke="#222" />
          <line x1={W} x2={W - 5} y1={y(v)} y2={y(v)} stroke="#222" />
        </g>
      ))}
      {majors.map(v => (
        <g key={'ma' + v}>
          <line x1={0} x2={9} y1={y(v)} y2={y(v)} stroke="#222" />
          <line x1={W} x2={W - 9} y1={y(v)} y2={y(v)} stroke="#222" />
          <text x={-11} y={y(v)} dy="0.36em" textAnchor="end" fontSize={20} fill="#231f20">{String(v)}</text>
        </g>
      ))}
      {/* x ticks */}
      {xMinor.map(e => (
        <g key={'xm' + e}>
          <line x1={x(e)} x2={x(e)} y1={H} y2={H - 5} stroke="#222" />
          <line x1={x(e)} x2={x(e)} y1={0} y2={5} stroke="#222" />
        </g>
      ))}
      {xMajor.map(e => (
        <g key={'xM' + e}>
          <line x1={x(e)} x2={x(e)} y1={H} y2={H - 10} stroke="#222" />
          <line x1={x(e)} x2={x(e)} y1={0} y2={10} stroke="#222" />
          {row === 3 && (
            <text x={x(e) + 3} y={H + 36} textAnchor="middle" fontSize={20} fill="#231f20">
              10<tspan fontSize={14} dy={-13}>{e === 100 ? '2' : '3'}</tspan>
            </text>
          )}
        </g>
      ))}
      <rect x={0} y={0} width={W} height={H} fill="none" stroke="#231f20" strokeWidth={1.4} />
      {/* isotope label */}
      <text x={cfg.lx} y={cfg.ly} fontSize={24} fill="#231f20">
        <tspan fontSize={14} dy={-9}>{cfg.mass}</tspan>
        <tspan dy={9}>{cfg.el}</tspan>
        <tspan fontSize={14} dy={7}>{cfg.sub}</tspan>
        {cfg.star && <tspan fontSize={13} dy={-6}>*</tspan>}
      </text>
    </g>
  );
}

export default function App() {
  return (
    <svg width={1028} height={1312} style={{ position: 'absolute', left: 0, top: 0, background: '#fff' }}
      fontFamily="'Liberation Sans', Arial, Helvetica, sans-serif">
      <rect width={1028} height={1312} fill="#fff" />
      {panels.map((p, i) => <Panel key={i} cfg={p} idx={i} />)}
      <text transform="translate(33,628) rotate(-90)" textAnchor="middle" fontSize={22.5} fill="#231f20">
        Production Cross Section (mb)
      </text>
      <text x={555} y={1306} textAnchor="middle" fontSize={23} fill="#231f20">Proton Energy (MeV)</text>
    </svg>
  );
}
